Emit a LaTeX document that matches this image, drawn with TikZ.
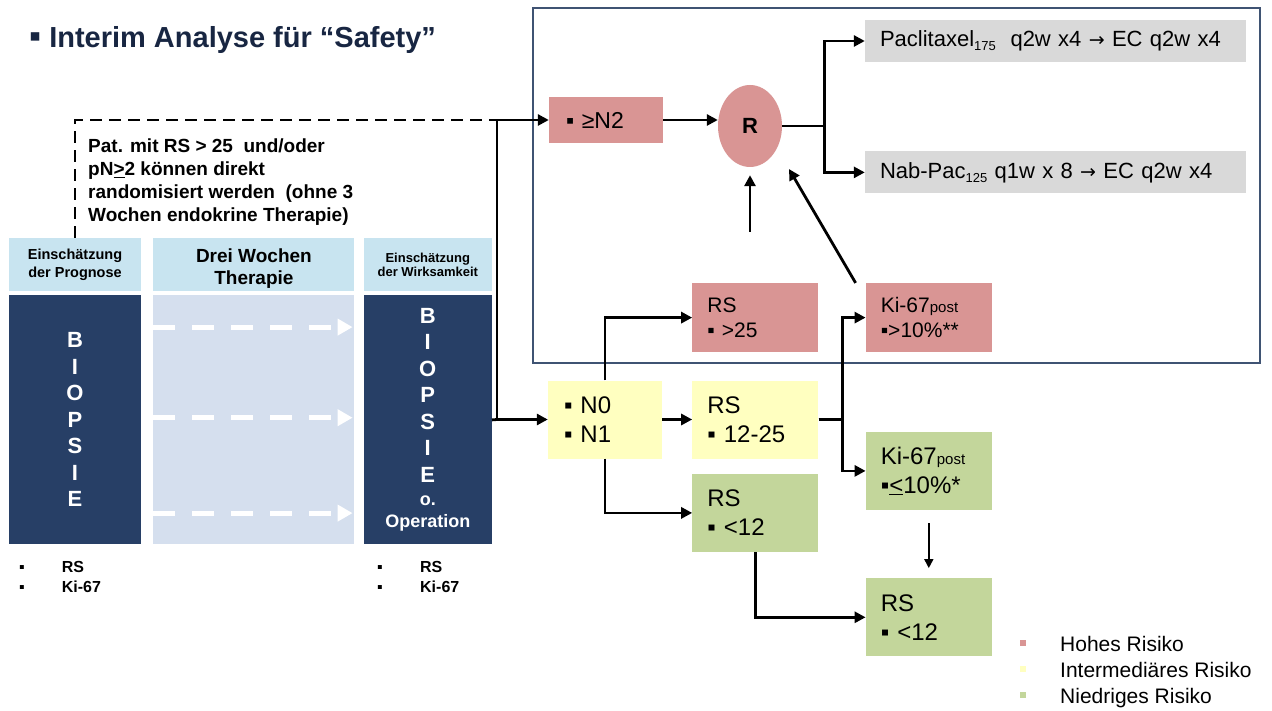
\documentclass[tikz,border=0pt]{standalone}
\usepackage{fontspec}
\setmainfont{Liberation Sans}
\newfontfamily\pfeilfont{DejaVu Sans}
\usetikzlibrary{positioning,arrows.meta,shapes.geometric}
\definecolor{hochrot}{RGB}{217,149,148}
\definecolor{mittelgelb}{RGB}{255,255,192}
\definecolor{niedriggruen}{RGB}{195,214,155}
\definecolor{therapiegrau}{RGB}{217,217,217}
\definecolor{kopfblau}{RGB}{200,228,240}
\definecolor{biopsieblau}{RGB}{39,63,102}
\definecolor{wochenblau}{RGB}{213,223,238}
\definecolor{rahmenblau}{RGB}{63,83,115}
\definecolor{titelblau}{RGB}{24,38,66}
\newcommand{\fsz}[2]{\fontsize{#1pt}{#2pt}\selectfont}
\newcommand{\pfeil}{{\pfeilfont\fsz{19}{22}→}}
\tikzstyle{hbox}=[rectangle, fill=hochrot, inner xsep=15pt, inner ysep=0pt,
 text width=96pt, minimum height=69pt, align=left, font=\fsz{21}{25}]
\tikzstyle{ibox}=[rectangle, fill=mittelgelb, inner xsep=15pt, inner ysep=0pt,
 text width=96pt, minimum height=78pt, align=left, font=\fsz{24}{29}]
\tikzstyle{nbox}=[ibox, fill=niedriggruen]
\tikzstyle{tbox}=[rectangle, fill=therapiegrau, inner xsep=15pt, inner ysep=0pt,
 text width=351pt, minimum height=42pt, align=left, font=\fsz{22}{26}]
\tikzstyle{rnode}=[ellipse, fill=hochrot, minimum width=64pt, minimum height=82pt,
 inner sep=0pt, font=\fsz{22}{26}\bfseries]
\tikzstyle{kopf}=[rectangle, fill=kopfblau, minimum height=53pt, inner sep=0pt, align=center]
\tikzstyle{bcol}=[rectangle, fill=biopsieblau, minimum height=249pt, inner sep=0pt,
 align=center, text=white, font=\fsz{22}{26.5}\bfseries]
\tikzstyle{tcol}=[rectangle, fill=wochenblau, minimum height=249pt, inner sep=0pt]
\tikzstyle{pline}=[-, line width=2.8pt]
\tikzstyle{parrow}=[pline, -{Triangle[length=11pt,width=11pt]}]
\tikzstyle{tarrow}=[line width=1.6pt, -{Triangle[length=9pt,width=9pt]}]
\tikzstyle{dline}=[line width=2.6pt, dash pattern=on 12pt off 7pt]
\tikzstyle{warrow}=[white, line width=5pt, dash pattern=on 22pt off 17pt,
 -{Triangle[length=15pt,width=16pt]}]
\tikzstyle{lsq}=[rectangle, minimum size=6pt, inner sep=0pt]
\tikzstyle{ltext}=[anchor=base west, inner sep=0pt]

\begin{document}
\begin{tikzpicture}[x=1pt, y=-1pt]
\useasboundingbox[fill=white] (0,0) rectangle (1272,711);

\node (TITLE) [ltext, text=titelblau, font=\fsz{29}{34}\bfseries] at (29,48) {{\fsz{34}{34}▪}\hspace{8pt}Interim Analyse für “Safety”};

\draw[rahmenblau, line width=1.5pt] (533,8) rectangle (1260,363);

\node (EINPROG) [kopf, minimum width=132pt, font=\fsz{14.5}{18}\bfseries] at (75,264.5) {Einschätzung\\der Prognose};
\node (THERKOPF) [kopf, minimum width=201pt, right=12pt of EINPROG, text height=44pt, font=\fsz{19}{22}\bfseries] {Drei Wochen\\Therapie};
\node (EINWIRK) [kopf, minimum width=128pt, right=9pt of THERKOPF, font=\fsz{13}{14}\bfseries] {Einschätzung\\der Wirksamkeit};

\node (BIOP1) [bcol, minimum width=132pt, below=4pt of EINPROG] {B\\I\\O\\P\\S\\I\\E};
\node (THER) [tcol, minimum width=201pt, below=4pt of THERKOPF] {};
\node (BIOP2) [bcol, minimum width=128pt, below=4pt of EINWIRK] {B\\I\\O\\P\\S\\I\\E\\[-3pt]{\fsz{18}{22}o.}\\[-4.5pt]{\fsz{18}{22}Operation}};

\foreach \dy in {92.8pt,2.2pt,-93.2pt}
  \draw[warrow, shorten >=2pt] ([yshift=\dy]THER.west) -- ([yshift=\dy]THER.east);

\node (RS1) [ltext, font=\fsz{16}{19}\bfseries] at (19,572.5) {\makebox[42.7pt][l]{▪}RS};
\node (KI1) [ltext, font=\fsz{16}{19}\bfseries] at (19,592.5) {\makebox[42.7pt][l]{▪}Ki-67};
\node (RS2) [ltext, font=\fsz{16}{19}\bfseries] at (377,572.5) {\makebox[43pt][l]{▪}RS};
\node (KI2) [ltext, font=\fsz{16}{19}\bfseries] at (377,592.5) {\makebox[43pt][l]{▪}Ki-67};

\node (DIREKT) [anchor=north west, inner sep=0pt, align=left, font=\fsz{19}{23}\bfseries] at (88,139)
 {Pat. mit RS > 25\ \ und/oder\\pN\underline{>}2 können direkt\\randomisiert werden\ \ (ohne 3\\Wochen endokrine Therapie)};

\coordinate (SPLIT) at (497,419.5);
\coordinate (SPLITTOP) at (497,120);
\draw[dline] (EINPROG.north) |- (SPLITTOP);

\node (N2) [hbox, text width=80pt, inner xsep=17pt, minimum height=46pt, font=\fsz{23}{28}] at (606,120) {▪ ≥N2};
\node (R) [rnode] at (750,126) {R};
\node (PAC) [tbox] at (1055.5,41) {Paclitaxel{\fsz{13}{15}\raisebox{-4pt}{175}}\ \ q2w x4 \pfeil{} EC q2w x4};
\node (NAB) [tbox, below=89pt of PAC] {Nab-Pac{\fsz{13}{15}\raisebox{-4pt}{125}} q1w x 8 \pfeil{} EC q2w x4};

\node (N01) [ibox, text width=82pt, inner xsep=16pt] at (605,419.5) {▪ N0\\▪ N1};
\node (RSMID) [ibox, right=30pt of N01] {RS\\▪ 12-25};
\node (RSHI) [hbox, above=28pt of RSMID] {RS\\▪ >25};
\node (RSLO) [nbox, below=15pt of RSMID] {RS\\▪ <12};
\node (KIHI) [hbox, right=47pt of RSHI] {Ki-67{\fsz{15}{18}post}\\▪>10\%**};
\node (KILO) [nbox, below right=-27pt and 47pt of RSMID] {Ki-67{\fsz{15}{18}post}\\▪\underline{<}10\%*};
\node (RSLO2) [nbox, below=68pt of KILO] {RS\\▪ <12};

\draw[pline] (BIOP2.east) -- (SPLIT);
\draw[parrow] (SPLIT) |- (N2.west);
\draw[parrow] (SPLIT) -- (N01.west);
\draw[parrow] (N2.east) -- (R.west |- N2.east);
\draw[parrow] (R.east) -- ++(42,0) |- (PAC.west);
\draw[parrow] (R.east) -- ++(42,0) |- (NAB.west);
\coordinate (UPFOOT) at (750,232);
\draw[parrow, shorten >=8pt] (UPFOOT) -- (R.south);
\coordinate (RTIP) at (789,169);
\draw[parrow] ([xshift=-10pt]KIHI.north west) -- (RTIP);
\draw[parrow] (N01.north) |- (RSHI.west);
\draw[parrow] (N01.east) -- (RSMID.west);
\draw[parrow] (N01.south) |- (RSLO.west);
\draw[parrow] (RSMID.east) -- ++(24,0) |- (KIHI.west);
\draw[parrow] (RSMID.east) -- ++(24,0) |- (KILO.west);
\draw[tarrow, shorten <=13pt, shorten >=10pt] (KILO.south) -- (RSLO2.north);
\draw[parrow] (RSLO.south) |- (RSLO2.west);

\node (LEGH) [lsq, fill=hochrot] at (1022.5,642.5) {};
\node (LEGM) [lsq, fill=mittelgelb, below=20pt of LEGH] {};
\node (LEGN) [lsq, fill=niedriggruen, below=20pt of LEGM] {};
\node (LEGHTXT) [ltext, font=\fsz{21}{25}] at (1060,651.5) {Hohes Risiko};
\node (LEGMTXT) [ltext, font=\fsz{21}{25}] at (1060,677.2) {Intermediäres Risiko};
\node (LEGNTXT) [ltext, font=\fsz{21}{25}] at (1060,703) {Niedriges Risiko};

\end{tikzpicture}
\end{document}
